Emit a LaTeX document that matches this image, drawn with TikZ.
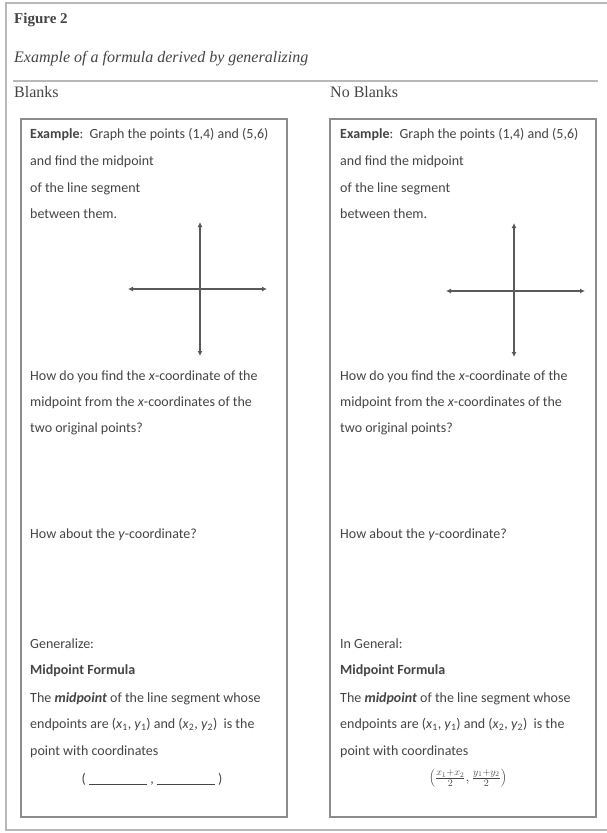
\documentclass[tikz,border=0pt]{standalone}
\usepackage{fontspec}
\setmainfont{Liberation Serif}
\newfontfamily\panelfont{Carlito}
\usetikzlibrary{arrows.meta}
\definecolor{framegray}{HTML}{B8B8B8}
\definecolor{boxgray}{HTML}{8C8C8C}
\definecolor{txtgray}{HTML}{444444}
\definecolor{axisgray}{HTML}{5A5A5A}
\tikzset{
  hdr/.style={anchor=base west, inner sep=0pt, text=txtgray, font=\fontsize{16}{18}\selectfont},
  ptxt/.style={anchor=base west, inner sep=0pt, text=txtgray, font=\panelfont\fontsize{14}{16}\selectfont},
  panelbox/.style={draw=boxgray, line width=1.6pt},
  outerline/.style={draw=framegray, line width=2pt},
  axisline/.style={draw=axisgray, line width=1.2pt, {Latex[length=5pt,width=5pt]}-{Latex[length=5pt,width=5pt]}},
}
\begin{document}
\begin{tikzpicture}[x=1pt,y=-1pt]
\useasboundingbox (0,0) rectangle (607,833);
% outer frame
\coordinate (otl) at (6,3);
\coordinate (otr) at (607,3);
\coordinate (obl) at (6,830);
\coordinate (obr) at (607,830);
\draw[outerline] (otr) -- (otl) -- (obl) -- (obr);
% header
\node[hdr, font=\bfseries\fontsize{15}{18}\selectfont] (fig) at (14,23) {Figure 2};
\node[hdr, font=\itshape\fontsize{16}{18}\selectfont] (cap) at (14,62) {Example of a formula derived by generalizing};
\coordinate (r1) at (13,81);
\coordinate (r2) at (598,81);
\draw[outerline] (r1) -- (r2);
\node[hdr] (blk) at (14,97) {Blanks};
\node[hdr] (noblk) at (330,97) {No Blanks};
% panels
\node[panelbox, minimum width=266pt, minimum height=698pt, anchor=north west, inner sep=0pt] (lp) at (20,118) {};
\node[panelbox, minimum width=266pt, minimum height=698pt, anchor=north west, inner sep=0pt] (rp) at (329,118) {};

% left panel text
\node[ptxt] (la1) at (30,138) {\textbf{Example}:\ \ Graph the points (1,4) and (5,6)};
\node[ptxt] (la2) at (30,165) {and find the midpoint};
\node[ptxt] (la3) at (30,192) {of the line segment};
\node[ptxt] (la4) at (30,218) {between them.};
\coordinate (lvt) at (200,222);
\coordinate (lvb) at (200,356);
\coordinate (lhl) at (128,289);
\coordinate (lhr) at (267,289);
\draw[axisline] (lvb) -- (lvt);
\draw[axisline] (lhl) -- (lhr);
\node[ptxt] (lb1) at (30,380) {How do you find the \textit{x}-coordinate of the};
\node[ptxt] (lb2) at (30,406) {midpoint from the \textit{x}-coordinates of the};
\node[ptxt] (lb3) at (30,432) {two original points?};
\node[ptxt] (lc1) at (30,538) {How about the \textit{y}-coordinate?};
\node[ptxt] (ld1) at (30,648) {Generalize:};
\node[ptxt] (ld2) at (30,674) {\textbf{Midpoint Formula}};
\node[ptxt] (ld3) at (30,702) {The \textbf{\textit{midpoint}} of the line segment whose};
\node[ptxt] (ld4) at (30,728) {endpoints are (\textit{x}\textsubscript{1}, \textit{y}\textsubscript{1}) and (\textit{x}\textsubscript{2}, \textit{y}\textsubscript{2})\ \ is the};
\node[ptxt] (ld5) at (30,755) {point with coordinates};
\node[ptxt, anchor=base] (ld6) at (152,783) {(\ \underline{\hspace{58pt}}\ ,\ \underline{\hspace{58pt}}\ )};

% right panel text
\node[ptxt] (ra1) at (340,138) {\textbf{Example}:\ \ Graph the points (1,4) and (5,6)};
\node[ptxt] (ra2) at (340,165) {and find the midpoint};
\node[ptxt] (ra3) at (340,192) {of the line segment};
\node[ptxt] (ra4) at (340,218) {between them.};
\coordinate (rvt) at (514,223);
\coordinate (rvb) at (514,357);
\coordinate (rhl) at (446,291);
\coordinate (rhr) at (585,291);
\draw[axisline] (rvb) -- (rvt);
\draw[axisline] (rhl) -- (rhr);
\node[ptxt] (rb1) at (340,380) {How do you find the \textit{x}-coordinate of the};
\node[ptxt] (rb2) at (340,406) {midpoint from the \textit{x}-coordinates of the};
\node[ptxt] (rb3) at (340,432) {two original points?};
\node[ptxt] (rc1) at (340,538) {How about the \textit{y}-coordinate?};
\node[ptxt] (rd1) at (340,648) {In General:};
\node[ptxt] (rd2) at (340,674) {\textbf{Midpoint Formula}};
\node[ptxt] (rd3) at (340,702) {The \textbf{\textit{midpoint}} of the line segment whose};
\node[ptxt] (rd4) at (340,728) {endpoints are (\textit{x}\textsubscript{1}, \textit{y}\textsubscript{1}) and (\textit{x}\textsubscript{2}, \textit{y}\textsubscript{2})\ \ is the};
\node[ptxt] (rd5) at (340,755) {point with coordinates};
\node[ptxt, anchor=center] (rd6) at (468,778) {$\left(\frac{x_1+x_2}{2},\frac{y_1+y_2}{2}\right)$};
\end{tikzpicture}
\end{document}
